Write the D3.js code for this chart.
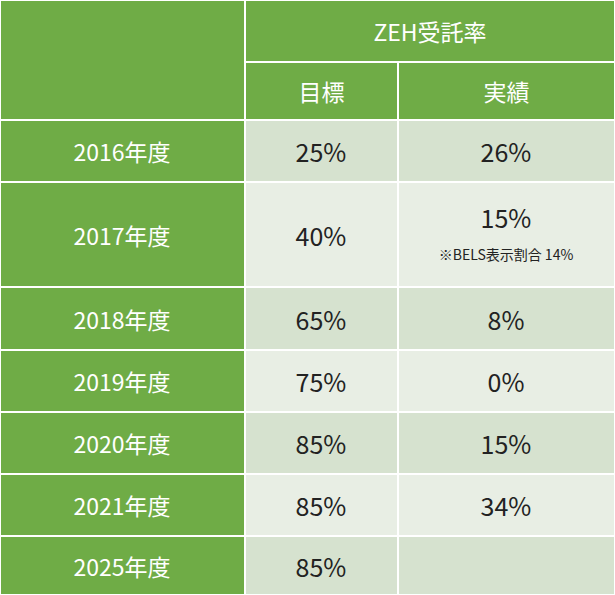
<!DOCTYPE html><html><head><meta charset="utf-8"><script src="https://cdn.jsdelivr.net/npm/d3@7"></script>
<style>body{margin:0;background:#fff}</style></head><body><script>
const years=["2016年度","2017年度","2018年度","2019年度","2020年度","2021年度","2025年度"];
const targets=["25%","40%","65%","75%","85%","85%","85%"];
const actuals=["26%","15%","8%","0%","15%","34%",""];
const notes=["","※BELS表示割合 14%","","","","",""];
const headerTop="ZEH受託率", headerCols=["目標","実績"];
const W=615,H=595, green="#6fac46", light=["#d6e2cf","#e8eee4"];
const colX=[0,245,398,615], hdrY=[0,62,120];
const rowH=[62,105,63,62,62,62,59];
const bounds=[120]; rowH.forEach(h=>bounds.push(bounds[bounds.length-1]+h));
const svg=d3.select("body").append("svg").attr("width",W).attr("height",H)
 .style("font-family","'Noto Sans CJK JP','Noto Sans',sans-serif");
function cell(x0,x1,y0,y1,fill){svg.append("rect").attr("x",x0).attr("y",y0).attr("width",x1-x0).attr("height",y1-y0).attr("fill",fill).attr("stroke","#fff").attr("stroke-width",2);}
function txt(x,y,t,size,fill){svg.append("text").attr("x",x).attr("y",y).attr("text-anchor","middle").attr("dominant-baseline","central").attr("font-size",size).attr("fill",fill).text(t);}
cell(0,245,0,120,green);
cell(245,615,0,62,green); txt(430,31,headerTop,23,"#fff");
headerCols.forEach((h,i)=>{cell(colX[i+1],colX[i+2],62,120,green);txt((colX[i+1]+colX[i+2])/2,91,h,23,"#fff");});
years.forEach((y,i)=>{
 const y0=bounds[i],y1=bounds[i+1],cy=(y0+y1)/2,f=light[i%2];
 cell(0,245,y0,y1,green); txt(122,cy,y,23,"#fff");
 cell(245,398,y0,y1,f); txt(321,cy,targets[i],25,"#222");
 cell(398,615,y0,y1,f);
 if(notes[i]){txt(506,cy-18,actuals[i],25,"#222");txt(506,cy+19,notes[i],14,"#222");}
 else txt(506,cy,actuals[i],25,"#222");
});
</script></body></html>
